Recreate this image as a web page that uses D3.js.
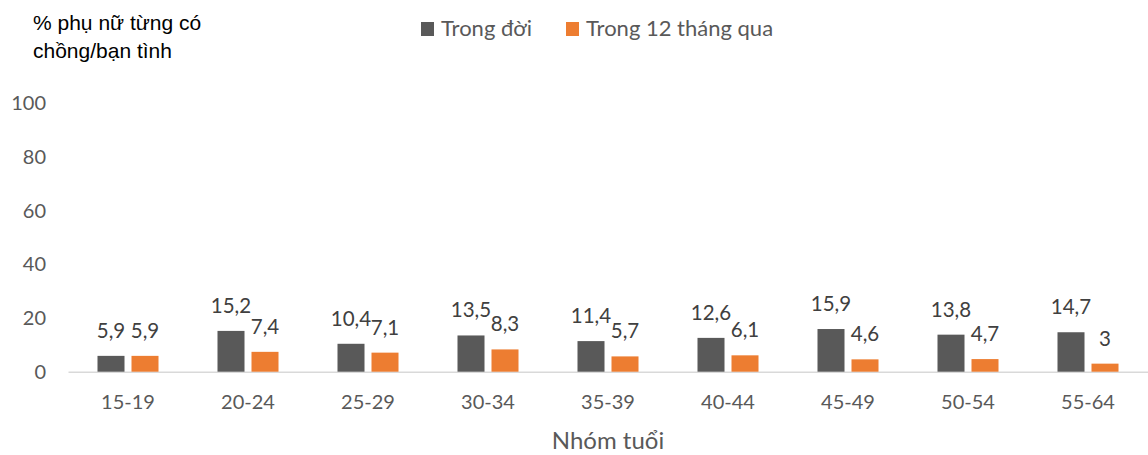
<!DOCTYPE html>
<html>
<head>
  <meta charset="utf-8">
  <script src="https://d3js.org/d3.v7.min.js"></script>
  <style>
    body { margin:0; background:#fff; }
    svg text { font-family: Lato, sans-serif; }
  </style>
</head>
<body>
  <div class="bar-chart"></div>
  <script>
    // data
    const groups = ['15-19', '20-24', '25-29', '30-34', '35-39', '40-44', '45-49', '50-54', '55-64'];
    const seriesNames = ['Trong đời', 'Trong 12 tháng qua'];
    const lifetime = [5.9, 15.2, 10.4, 13.5, 11.4, 12.6, 15.9, 13.8, 14.7];
    const last12 = [5.9, 7.4, 7.1, 8.3, 5.7, 6.1, 4.6, 4.7, 3];
    const yTicks = [0, 20, 40, 60, 80, 100];
    const colors = ['#595959', '#ED7D31'];

    const W = 1148, H = 455;
    const plot = { left: 68, right: 1148, top: 103.3, bottom: 371.7 };

    const rows = groups.map((g, i) => ({ group: g, values: [lifetime[i], last12[i]] }));

    const svg = d3.select('.bar-chart')
      .append('svg')
        .attr('width', W)
        .attr('height', H);

    const x0 = d3.scaleBand()
      .domain(groups)
      .range([plot.left, plot.right])
      .padding(0);

    const bw = x0.bandwidth();
    const x1 = d3.scaleBand()
      .domain([0, 1])
      .range([bw / 2 - 30.5, bw / 2 + 30.5])
      .paddingInner(7 / 34)
      .paddingOuter(0);

    const y = d3.scaleLinear()
      .domain([0, 100])
      .range([plot.bottom, plot.top]);

    // y axis (labels only)
    const yAxis = svg.append('g')
      .attr('transform', `translate(${plot.left - 22},0)`)
      .call(d3.axisLeft(y).tickValues(yTicks).tickSize(0).tickPadding(0));
    yAxis.select('.domain').remove();
    yAxis.selectAll('text')
      .attr('fill', '#595959')
      .style('font-size', '20px')
      .style('font-family', 'Lato, sans-serif');

    // x axis
    const xAxis = svg.append('g')
      .attr('transform', `translate(0,${plot.bottom})`)
      .call(d3.axisBottom(x0).tickSize(0).tickPadding(23));
    xAxis.select('.domain')
      .attr('stroke', '#d9d9d9')
      .attr('stroke-width', 1.5);
    xAxis.selectAll('text')
      .attr('fill', '#595959')
      .style('font-size', '20px')
      .style('font-family', 'Lato, sans-serif');

    const fmt = v => String(v).replace('.', ',');

    const grp = svg.selectAll('.grp')
      .data(rows)
      .enter()
      .append('g')
        .attr('class', 'grp')
        .attr('transform', d => `translate(${x0(d.group)},0)`);

    grp.selectAll('rect')
      .data(d => d.values)
      .enter()
      .append('rect')
        .attr('x', (d, i) => x1(i))
        .attr('width', x1.bandwidth())
        .attr('y', d => y(d))
        .attr('height', d => y(0) - y(d))
        .attr('fill', (d, i) => colors[i]);

    grp.selectAll('.lbl')
      .data(d => d.values)
      .enter()
      .append('text')
        .attr('class', 'lbl')
        .attr('x', (d, i) => x1(i) + x1.bandwidth() / 2)
        .attr('y', d => y(d) - 18)
        .attr('text-anchor', 'middle')
        .attr('fill', '#404040')
        .style('font-size', '20.5px')
        .text(fmt);

    // axis title
    svg.append('text')
      .attr('x', (plot.left + plot.right) / 2)
      .attr('y', 449)
      .attr('text-anchor', 'middle')
      .attr('fill', '#595959')
      .style('font-size', '24px')
      .text('Nhóm tuổi');

    // y title, two lines
    const ttl = svg.append('text')
      .attr('fill', '#000')
      .style('font-family', '"Liberation Sans", Arial, sans-serif')
      .style('font-size', '21px');
    ttl.append('tspan').attr('x', 33).attr('y', 30).text('% phụ nữ từng có');
    ttl.append('tspan').attr('x', 33).attr('y', 58).text('chồng/bạn tình');

    // legend
    const legendX = [421, 566];
    const lg = svg.selectAll('.lg')
      .data(seriesNames)
      .enter()
      .append('g')
        .attr('class', 'lg')
        .attr('transform', (d, i) => `translate(${legendX[i]},22)`);
    lg.append('rect')
      .attr('width', 13)
      .attr('height', 14)
      .attr('fill', (d, i) => colors[i]);
    lg.append('text')
      .attr('x', 20)
      .attr('y', 14)
      .attr('fill', '#595959')
      .style('font-size', '22px')
      .text(d => d);
  </script>
</body>
</html>
